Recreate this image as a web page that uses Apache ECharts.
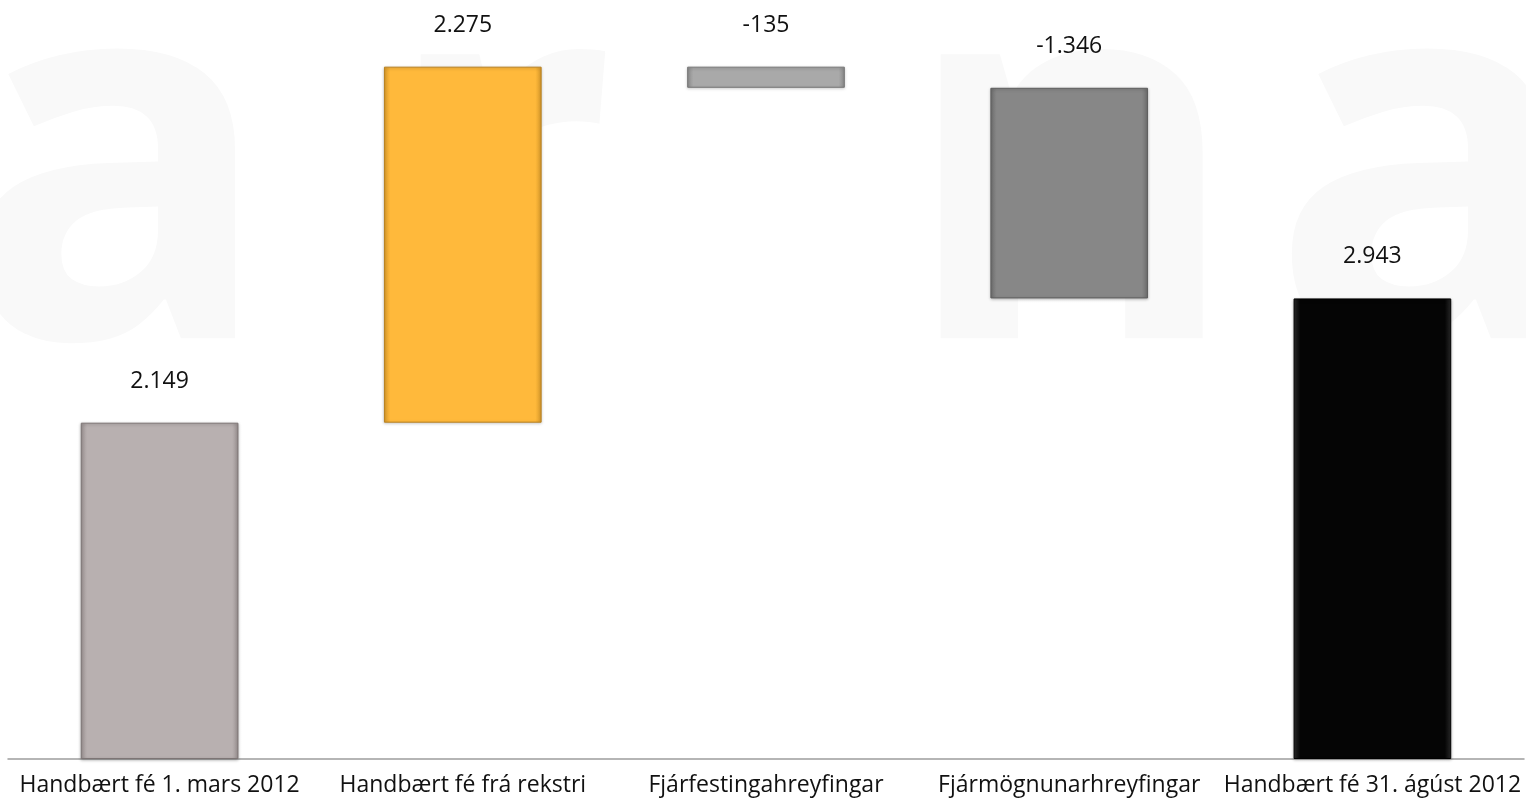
<!DOCTYPE html>
<html>
<head>
<meta charset="utf-8">
<title>Handbært fé</title>
<script src="https://cdn.jsdelivr.net/npm/echarts@6/dist/echarts.min.js"></script>
<style>
  html, body { margin: 0; padding: 0; background: #fff; }
  #chart { width: 1526px; height: 807px; }
</style>
</head>
<body>
<div id="chart"></div>
<script>
// flokkar og gildi (m.kr.)
var categories = ['Handbært fé 1. mars 2012', 'Handbært fé frá rekstri', 'Fjárfestingahreyfingar', 'Fjármögnunarhreyfingar', 'Handbært fé 31. ágúst 2012'];
var changes = [2149, 2275, -135, -1346, 2943];
var isTotal = [true, false, false, false, true];
var barColors = ['#b8b0b0', '#ffb93b', '#a9a9a9', '#878787', '#050505'];
var edgeColors = ['#9a9191', '#d99a2a', '#8c8c8c', '#6e6e6e', '#2a2a2a'];
var borderColors = ['#7d7575', '#b98220', '#777777', '#5e5e5e', '#000000'];

// grunnur (ósýnilegur) og sýnilegur hluti fyrir fossarit
var baseData = [];
var barData = [];
var running = 0;
changes.forEach(function (v, i) {
  if (isTotal[i]) {
    baseData.push(0);
    barData.push(v);
    running = v;
  } else if (v >= 0) {
    baseData.push(running);
    barData.push(v);
    running += v;
  } else {
    running += v;
    baseData.push(running);
    barData.push(-v);
  }
});

function fmt(n) {
  var s = String(Math.abs(n)).replace(/\B(?=(\d{3})+(?!\d))/g, '.');
  return (n < 0 ? '-' : '') + s;
}

var myChart = echarts.init(document.getElementById('chart'));

var font = '"Open Sans", "Liberation Sans", sans-serif';
var wmFont = 'bold 520px "Open Sans", sans-serif';
var wmColor = '#f9f9f9';

var option = {
  backgroundColor: '#ffffff',
  animation: false,
  graphic: [
    {
      type: 'group', silent: true, z: -10,
      children: [
        { type: 'text', style: { text: 'a', x: -40, y: 450, textVerticalAlign: 'bottom', font: wmFont, fill: wmColor } },
        { type: 'text', style: { text: 'r', x: 380, y: 450, textVerticalAlign: 'bottom', font: wmFont, fill: wmColor } },
        { type: 'text', style: { text: 'n', x: 900, y: 450, textVerticalAlign: 'bottom', font: wmFont, fill: wmColor } },
        { type: 'text', style: { text: 'a', x: 1270, y: 450, textVerticalAlign: 'bottom', font: wmFont, fill: wmColor } }
      ]
    }
  ],
  grid: {
    left: 8,
    right: 2,
    top: 0,
    bottom: 48,
    containLabel: false
  },
  xAxis: {
    type: 'category',
    data: categories,
    axisLine: { show: true, lineStyle: { color: '#9d9d9d', width: 1.5 } },
    axisTick: { show: false },
    axisLabel: {
      interval: 0,
      margin: 15,
      color: '#111',
      fontSize: 23,
      fontFamily: font
    }
  },
  yAxis: {
    type: 'value',
    min: 0,
    max: 4850,
    show: false,
    splitLine: { show: false }
  },
  series: [
    {
      name: 'grunnur',
      type: 'bar',
      stack: 'foss',
      barWidth: '52%',
      silent: true,
      itemStyle: { color: 'transparent' },
      data: baseData
    },
    {
      name: 'breyting',
      type: 'bar',
      stack: 'foss',
      barWidth: '52%',
      data: barData.map(function (v, i) {
        return {
          value: v,
          itemStyle: {
            color: new echarts.graphic.LinearGradient(0, 0, 1, 0, [
              { offset: 0, color: edgeColors[i] },
              { offset: 0.04, color: barColors[i] },
              { offset: 0.96, color: barColors[i] },
              { offset: 1, color: edgeColors[i] }
            ]),
            borderColor: borderColors[i],
            borderWidth: 1,
            shadowColor: 'rgba(0,0,0,0.25)',
            shadowBlur: 3,
            shadowOffsetY: 1
          }
        };
      }),
      label: {
        show: true,
        position: 'top',
        distance: 30,
        color: '#111',
        fontSize: 23,
        fontFamily: font,
        formatter: function (p) { return fmt(changes[p.dataIndex]); }
      }
    }
  ]
};

myChart.setOption(option);
</script>
</body>
</html>
